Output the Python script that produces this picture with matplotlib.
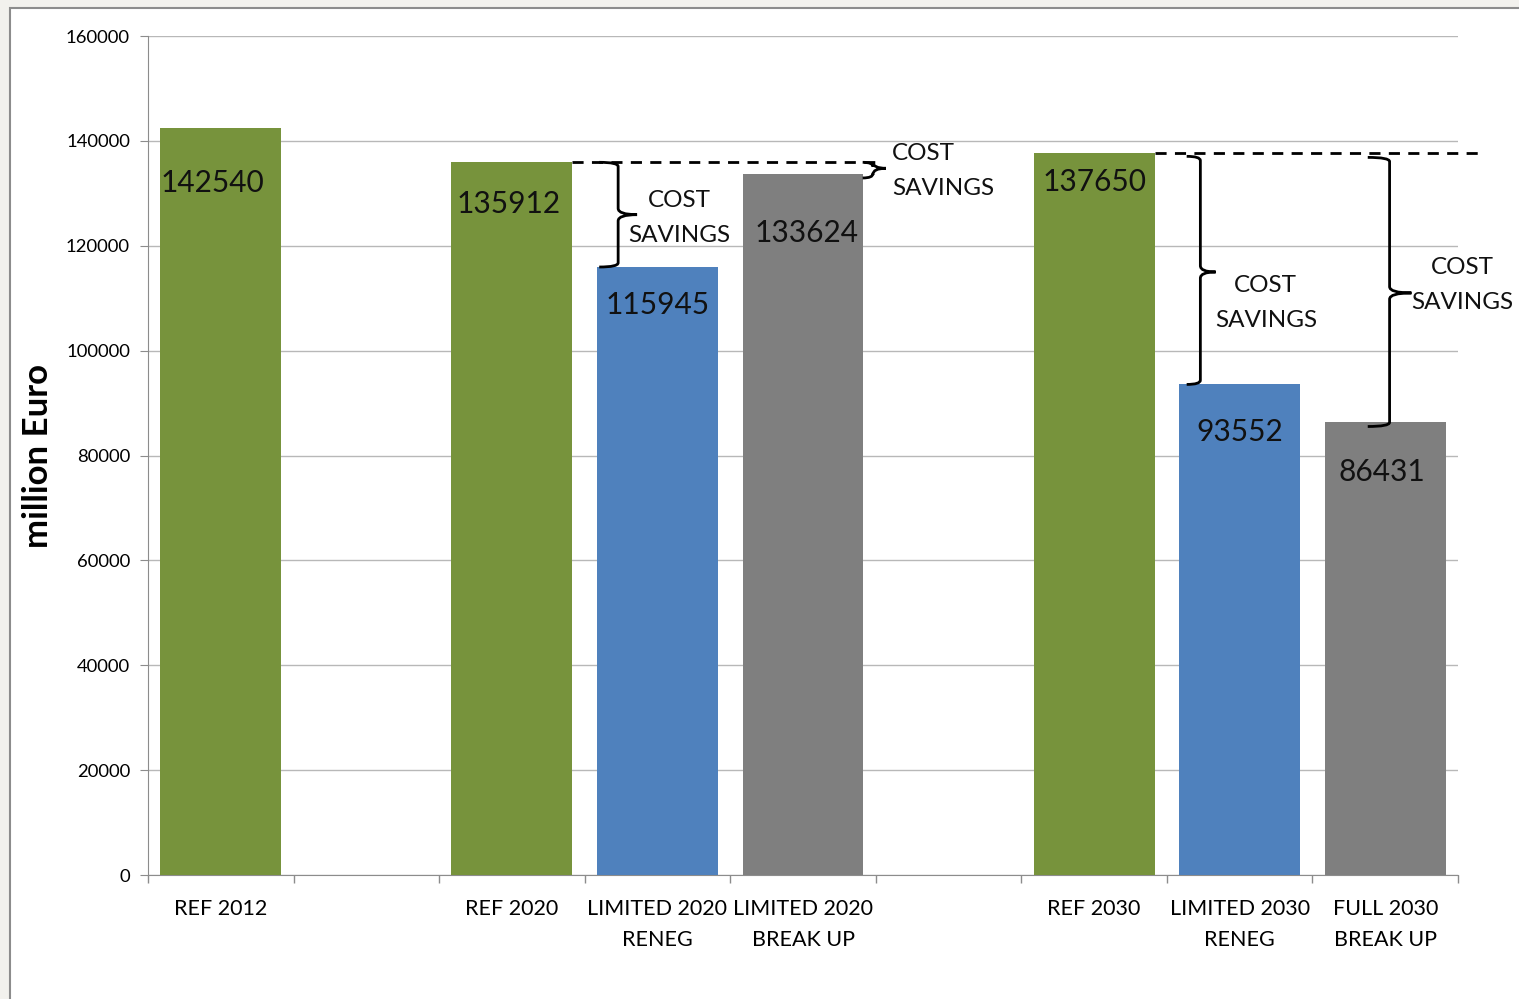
import matplotlib
matplotlib.use("Agg")
import matplotlib.pyplot as plt
from matplotlib.patches import Rectangle
from matplotlib.path import Path
from matplotlib.patches import PathPatch

plt.rcParams['font.family'] = ['Lato', 'DejaVu Sans']

# ---- data ----
categories = ["REF 2012", "", "REF 2020", "LIMITED 2020\nRENEG", "LIMITED 2020\nBREAK UP",
              "", "REF 2030", "LIMITED 2030\nRENEG", "FULL 2030\nBREAK UP"]
values = [142540, None, 135912, 115945, 133624, None, 137650, 93552, 86431]
bar_kinds = ["ref", None, "ref", "reneg", "breakup", None, "ref", "reneg", "breakup"]
y_ticks = [0, 20000, 40000, 60000, 80000, 100000, 120000, 140000, 160000]
savings_text = "COST\nSAVINGS"

# ---- styles ----
colors = {"ref": "#77933c", "reneg": "#4f81bd", "breakup": "#7f7f7f"}
label_offsets_px = [55, 0, 42, 38, 59, 0, 29, 48, 50]
label_dx_px = [-8, 0, -3, 0, 4, 0, 0, 0, -3]

fig = plt.figure(figsize=(15.19, 9.99), dpi=100, facecolor="#f2f1ed")
fig.patches.append(Rectangle((10/1519, -0.05), 1.2, (999-8)/999 + 0.05,
                             transform=fig.transFigure, facecolor="white",
                             edgecolor="#8c8c8c", linewidth=1.5, zorder=-10))

ax = fig.add_axes([148/1519, 1-875/999, (1458-148)/1519, (875-36)/999])
ax.set_facecolor("none")

xs = list(range(len(categories)))
for x, v, k in zip(xs, values, bar_kinds):
    if v is None:
        continue
    ax.bar(x, v, width=0.83, color=colors[k], zorder=3)

for x, v, off, dx in zip(xs, values, label_offsets_px, label_dx_px):
    if v is None:
        continue
    ax.annotate(f"{v}", (x, v), xytext=(dx, -off), textcoords="offset pixels",
                ha="center", va="center", fontsize=21.5, color="#111111", zorder=5)

ax.set_xlim(-0.5, len(categories) - 0.5)
ax.set_ylim(0, 160000)
ax.set_yticks(y_ticks)
ax.set_yticklabels([str(t) for t in y_ticks], fontsize=13.3)
ax.yaxis.grid(True, color="#b8b8b8", linewidth=1, zorder=0)
ax.set_axisbelow(True)

ax.set_xticks(xs)
ax.set_xticklabels(categories, fontsize=15.5, linespacing=1.7)
ax.tick_params(axis="x", which="major", length=0, pad=17)
ax.set_xticks([i - 0.5 for i in range(len(categories) + 1)], minor=True)
ax.tick_params(axis="x", which="minor", length=6, color="#8c8c8c", width=1)
ax.tick_params(axis="y", length=6, color="#8c8c8c", pad=7)

for s in ["top", "right"]:
    ax.spines[s].set_visible(False)
for s in ["left", "bottom"]:
    ax.spines[s].set_color("#8c8c8c")

ax.set_ylabel("million Euro", fontsize=25, fontweight="bold")
ax.yaxis.set_label_coords(-0.072, 0.5)


def brace(x_hook, x_line, x_tip, y_top, y_bot, y_mid):
    verts = [
        (x_hook, y_top), (x_line, y_top), (x_line, y_top - 800),
        (x_line, y_mid + 1200),
        (x_line, y_mid), (x_tip, y_mid), (x_tip, y_mid),
        (x_line, y_mid), (x_line, y_mid - 1200),
        (x_line, y_bot + 800),
        (x_line, y_bot), (x_hook, y_bot),
    ]
    codes = [Path.MOVETO, Path.CURVE3, Path.CURVE3, Path.LINETO,
             Path.CURVE3, Path.CURVE3, Path.MOVETO, Path.CURVE3, Path.CURVE3,
             Path.LINETO, Path.CURVE3, Path.CURVE3]
    ax.add_patch(PathPatch(Path(verts, codes), facecolor="none",
                           edgecolor="black", linewidth=2, clip_on=False, zorder=6))


# dashed reference lines
ax.plot([2.415, 4.55], [values[2], values[2]], ls=(0, (4, 3)), color="black",
        lw=2, clip_on=False, zorder=6)
ax.plot([6.415, 8.68], [values[6], values[6]], ls=(0, (4, 3)), color="black",
        lw=2, clip_on=False, zorder=6)

# braces
brace(2.60, 2.73, 2.86, values[2], values[3], (values[2] + values[3]) / 2)
brace(4.41, 4.48, 4.57, values[2], values[4] - 700, (values[2] + values[4]) / 2)
brace(6.636, 6.73, 6.835, values[6] - 600, values[7], 115000)
brace(7.88, 8.03, 8.18, values[6] - 800, values[8] - 900, 111000)

tkw = dict(fontsize=17.5, color="#111111", linespacing=1.8, va="center", zorder=6)
ax.text(3.15, 125290, savings_text, ha="center", **tkw)
ax.text(4.61, 134255, savings_text, ha="left", **tkw)
ax.text(7.18, 109080, savings_text, ha="center", **tkw)
ax.text(8.53, 112514, savings_text, ha="center", clip_on=False, **tkw)

fig.savefig("out.png", dpi=100, facecolor=fig.get_facecolor())
